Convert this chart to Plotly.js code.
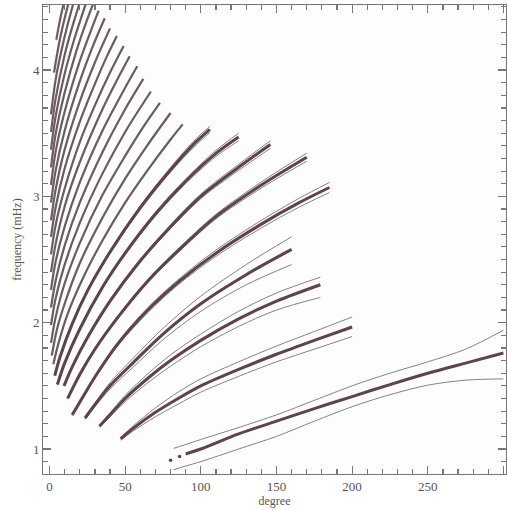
<!DOCTYPE html>
<html>
<head>
<meta charset="utf-8">
<script src="https://cdn.plot.ly/plotly-3.0.1.min.js"></script>
<style>html,body{margin:0;padding:0;background:#ffffff;}</style>
</head>
<body>
<div id="chart" style="width:507px;height:510px;"></div>
<script>
// l-nu diagram: mode ridges (f and p1..p26), frequency in mHz against spherical-harmonic degree.
// Each ridge: degrees, centre frequency, and the upper / lower bounding curves (null when not drawn).
const ridgeNames = ['f','p1','p2','p3','p4','p5','p6','p7','p8','p9','p10','p11','p12','p13','p14','p15','p16','p17','p18','p19','p20','p21','p22','p23','p24','p25','p26'];

const ridgeDegrees = [
  [82, 90, 100, 125, 150, 175, 200, 225, 250, 275, 300],
  [47, 55, 70, 85, 100, 125, 150, 175, 200],
  [33, 40, 50, 65, 80, 100, 125, 150, 179],
  [23.5, 30, 40, 55, 75, 100, 130, 160],
  [15, 20, 30, 45, 65, 85, 110, 140, 165, 185],
  [12, 20, 30, 45, 65, 85, 110, 140, 170],
  [9.6, 15, 25, 40, 60, 80, 100, 125, 146],
  [5.2, 10, 20, 35, 50, 70, 90, 110, 125],
  [3.5, 7, 15, 25, 40, 60, 80, 95, 106],
  [2.5, 6, 12, 22, 35, 50, 65, 80, 88],
  [1.5, 5, 10, 20, 35, 50, 65, 80],
  [1, 4, 10, 20, 35, 50, 62, 73],
  [1, 4, 10, 20, 35, 50, 67],
  [1, 4, 10, 20, 35, 50, 62],
  [1, 4, 10, 20, 35, 50, 58],
  [1, 4, 10, 20, 35, 45, 53],
  [1, 4, 10, 20, 30, 40, 49],
  [1, 4, 10, 20, 30, 38, 44.5],
  [1, 4, 10, 20, 30, 40],
  [1, 4, 10, 20, 28, 36.5],
  [1, 4, 10, 20, 27, 32.5],
  [1, 4, 10, 18, 24, 30],
  [1, 4, 10, 16, 25],
  [1, 4, 10, 15, 21],
  [1, 4, 8, 12, 17],
  [3, 6, 9, 13],
  [4.5, 7, 10]
];

const ridgeFreq = [
  [null, 0.96, 1.00, 1.12, 1.22, 1.32, 1.415, 1.51, 1.60, 1.68, 1.76],
  [1.08, 1.16, 1.29, 1.40, 1.50, 1.63, 1.75, 1.86, 1.966],
  [1.18, 1.27, 1.40, 1.56, 1.70, 1.86, 2.03, 2.17, 2.30],
  [1.245, 1.35, 1.50, 1.68, 1.91, 2.15, 2.38, 2.58],
  [1.27, 1.37, 1.57, 1.83, 2.10, 2.32, 2.55, 2.78, 2.95, 3.07],
  [1.40, 1.59, 1.79, 2.04, 2.33, 2.57, 2.84, 3.09, 3.31],
  [1.50, 1.65, 1.88, 2.17, 2.49, 2.76, 3.00, 3.23, 3.41],
  [1.51, 1.68, 1.95, 2.28, 2.55, 2.86, 3.12, 3.34, 3.47],
  [1.58, 1.73, 1.99, 2.25, 2.56, 2.91, 3.21, 3.41, 3.53],
  [1.67, 1.84, 2.07, 2.35, 2.65, 2.95, 3.21, 3.45, 3.57],
  [1.74, 1.95, 2.15, 2.47, 2.83, 3.14, 3.41, 3.66],
  [1.84, 2.04, 2.31, 2.63, 3.01, 3.32, 3.55, 3.74],
  [1.98, 2.19, 2.46, 2.79, 3.18, 3.51, 3.83],
  [2.12, 2.33, 2.61, 2.95, 3.35, 3.69, 3.93],
  [2.26, 2.48, 2.76, 3.11, 3.52, 3.86, 4.03],
  [2.40, 2.62, 2.92, 3.27, 3.69, 3.93, 4.11],
  [2.54, 2.77, 3.06, 3.43, 3.72, 3.98, 4.19],
  [2.68, 2.91, 3.22, 3.59, 3.89, 4.11, 4.27],
  [2.81, 3.05, 3.37, 3.75, 4.06, 4.33],
  [2.95, 3.20, 3.52, 3.91, 4.17, 4.41],
  [3.09, 3.35, 3.67, 4.07, 4.30, 4.47],
  [3.23, 3.49, 3.82, 4.16, 4.37, 4.56],
  [3.37, 3.63, 3.97, 4.23, 4.56],
  [3.51, 3.77, 4.12, 4.34, 4.57],
  [3.65, 3.92, 4.16, 4.36, 4.58],
  [3.98, 4.19, 4.36, 4.55],
  [4.24, 4.40, 4.56]
];

const upperFreq = [
  [1.005, 1.035, 1.075, 1.17, 1.27, 1.385, 1.50, 1.60, 1.69, 1.79, 1.94],
  [1.09, 1.18, 1.325, 1.45, 1.555, 1.69, 1.815, 1.93, 2.045],
  [1.19, 1.285, 1.425, 1.595, 1.745, 1.91, 2.09, 2.235, 2.36],
  [1.255, 1.365, 1.525, 1.715, 1.955, 2.21, 2.46, 2.68],
  [1.275, 1.38, 1.58, 1.845, 2.12, 2.34, 2.575, 2.81, 2.985, 3.11],
  [1.404, 1.596, 1.798, 2.05, 2.342, 2.585, 2.858, 3.114, 3.342],
  [1.504, 1.656, 1.888, 2.18, 2.502, 2.775, 3.018, 3.254, 3.44],
  [1.514, 1.686, 1.958, 2.29, 2.562, 2.875, 3.138, 3.364, 3.50],
  [1.584, 1.736, 1.998, 2.26, 2.572, 2.925, 3.228, 3.434, 3.555],
  null, null, null, null, null, null, null, null, null, null, null, null, null, null, null, null, null, null
];

const lowerFreq = [
  [0.835, 0.865, 0.90, 1.00, 1.10, 1.22, 1.335, 1.43, 1.505, 1.545, 1.555],
  [1.07, 1.14, 1.255, 1.355, 1.45, 1.575, 1.69, 1.79, 1.89],
  [1.17, 1.255, 1.375, 1.525, 1.655, 1.81, 1.97, 2.10, 2.20],
  [1.235, 1.335, 1.475, 1.645, 1.865, 2.09, 2.30, 2.46],
  [1.265, 1.36, 1.56, 1.815, 2.08, 2.30, 2.525, 2.75, 2.915, 3.03],
  [1.396, 1.584, 1.782, 2.03, 2.318, 2.555, 2.822, 3.066, 3.278],
  [1.496, 1.644, 1.872, 2.16, 2.478, 2.745, 2.982, 3.206, 3.38],
  [1.506, 1.674, 1.942, 2.27, 2.538, 2.845, 3.102, 3.316, 3.44],
  [1.576, 1.724, 1.982, 2.24, 2.548, 2.895, 3.192, 3.386, 3.505],
  null, null, null, null, null, null, null, null, null, null, null, null, null, null, null, null, null, null
];

// isolated low-degree f-mode points below the continuous ridge
const fLooseDegrees = [80, 86];
const fLooseFreq = [0.91, 0.94];

const xRange = [-4.3, 301.7];
const yRange = [0.802, 4.515];

const serif = '"Liberation Serif", "DejaVu Serif", serif';
const ridgeColour = '#5e4446';
const denseColour = '#6a5c5f';
const boundColour = '#878183';
const axisColour = '#777777';

const traces = [];
ridgeNames.forEach((name, i) => {
  const x = ridgeDegrees[i];
  [upperFreq[i], lowerFreq[i]].forEach(b => {
    if (!b) return;
    traces.push({
      x: x, y: b, type: 'scatter', mode: 'lines', hoverinfo: 'skip',
      line: {color: boundColour, width: 1, shape: 'spline', smoothing: 0.9},
      showlegend: false
    });
  });
});
ridgeNames.forEach((name, i) => {
  const dense = i >= 9;
  traces.push({
    x: ridgeDegrees[i], y: ridgeFreq[i], type: 'scatter', mode: 'lines', name: name,
    line: {color: dense ? denseColour : ridgeColour, width: dense ? 2.2 : 3, shape: 'spline', smoothing: 0.9},
    connectgaps: false, showlegend: false
  });
});
// the loose f points sit on the overlay axes, which share the main ranges and carry the minor ticks
traces.push({
  x: fLooseDegrees, y: fLooseFreq, type: 'scatter', mode: 'markers',
  xaxis: 'x2', yaxis: 'y2',
  marker: {color: ridgeColour, size: 3.5}, showlegend: false
});

// major tick marks on all four sides, pointing into the frame
const axisCommon = {
  showline: true, linecolor: axisColour, linewidth: 1, mirror: 'allticks',
  ticks: 'inside', ticklen: 8, tickwidth: 1.2, tickcolor: axisColour,
  showgrid: false, zeroline: false, tickmode: 'linear', tick0: 0,
  layer: 'above traces',
  tickfont: {family: serif, size: 13, color: '#555555'}
};
// minor tick marks (overlay axes, no labels)
const minorCommon = {
  showline: false, mirror: 'allticks', ticks: 'inside', ticklen: 5, tickwidth: 1.2,
  tickcolor: axisColour, showticklabels: false, showgrid: false, zeroline: false,
  tickmode: 'linear', tick0: 0, layer: 'above traces'
};

const layout = {
  width: 507, height: 510,
  margin: {l: 43, r: 1, t: 5, b: 36},
  paper_bgcolor: '#ffffff', plot_bgcolor: '#fdfdfd',
  xaxis: Object.assign({}, axisCommon, {
    range: xRange, dtick: 50,
    title: {text: 'degree', font: {family: serif, size: 12, color: '#555555'}, standoff: 3}
  }),
  yaxis: Object.assign({}, axisCommon, {
    range: yRange, dtick: 1,
    title: {text: 'frequency (mHz)', font: {family: serif, size: 12, color: '#555555'}, standoff: 8}
  }),
  xaxis2: Object.assign({}, minorCommon, {overlaying: 'x', side: 'bottom', anchor: 'y2', range: xRange, dtick: 10}),
  yaxis2: Object.assign({}, minorCommon, {overlaying: 'y', side: 'left', anchor: 'x2', range: yRange, dtick: 0.1})
};

Plotly.newPlot('chart', traces, layout, {displayModeBar: false, staticPlot: true});
</script>
</body>
</html>
